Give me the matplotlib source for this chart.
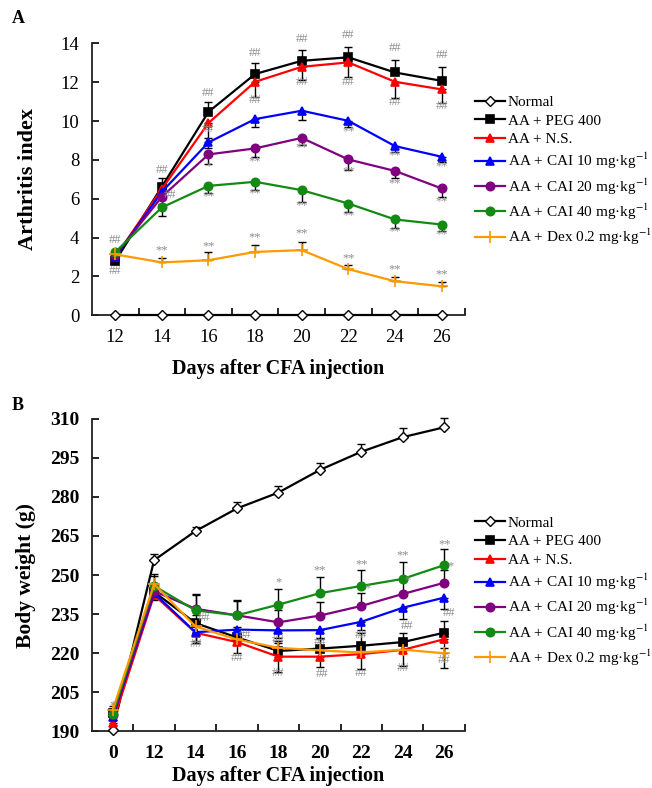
import numpy as np
import matplotlib
matplotlib.use("Agg")
import matplotlib.pyplot as plt

plt.rcParams['font.family'] = ['Liberation Serif', 'DejaVu Serif']
plt.rcParams['mathtext.fontset'] = 'stix'

# ====================== DATA ======================
groups = ['Normal', 'AA + PEG 400', 'AA + N.S.',
          'AA + CAI 10 mg·kg$^{-1}$', 'AA + CAI 20 mg·kg$^{-1}$',
          'AA + CAI 40 mg·kg$^{-1}$', 'AA + Dex 0.2 mg·kg$^{-1}$']
colors = ['black', 'black', '#ff0000', '#0000ff', '#800080', '#138a13', '#ff9900']
markers = ['D', 's', '^', '^', 'o', 'o', '+']

# panel A: arthritis index
days_a = ['12', '14', '16', '18', '20', '22', '24', '26']
ai_normal = [0, 0, 0, 0, 0, 0, 0, 0]
ai_peg = [2.78, 6.62, 10.47, 12.42, 13.10, 13.28, 12.50, 12.07]
ai_ns = [3.00, 6.50, 9.90, 12.02, 12.79, 13.02, 12.02, 11.63]
ai_cai10 = [3.00, 6.35, 8.90, 10.10, 10.53, 10.01, 8.71, 8.16]
ai_cai20 = [3.10, 6.10, 8.28, 8.59, 9.13, 8.02, 7.43, 6.53]
ai_cai40 = [3.25, 5.55, 6.66, 6.87, 6.44, 5.75, 4.93, 4.67]
ai_dex = [3.13, 2.72, 2.83, 3.26, 3.35, 2.37, 1.75, 1.49]

ai_normal_err = [0, 0, 0, 0, 0, 0, 0, 0]
ai_peg_err = [0.15, 0.42, 0.49, 0.55, 0.55, 0.55, 0.64, 0.72]
ai_ns_err = [0.15, 0.40, 0.80, 0.77, 0.70, 0.74, 0.86, 0.70]
ai_cai10_err = [0.15, 0.35, 0.30, 0.40, 0.50, 0.30, 0.30, 0.26]
ai_cai20_err = [0.15, 0.35, 0.47, 0.43, 0.37, 0.55, 0.39, 0.43]
ai_cai40_err = [0.15, 0.43, 0.39, 0.43, 0.60, 0.43, 0.46, 0.34]
ai_dex_err = [0.15, 0.25, 0.43, 0.34, 0.40, 0.21, 0.22, 0.23]

# significance marks (x index, y value, text)
ai_marks = [
    (0, 3.87, '##'), (0, 2.30, '##'), (1, 7.47, '##'), (1.18, 6.19, '##'),
    (2, 11.46, '##'), (2, 9.57, '##'), (3, 13.49, '##'), (3, 11.10, '##'),
    (4, 14.20, '##'), (4, 12.00, '##'), (5, 14.45, '##'), (5, 12.00, '##'),
    (6, 13.78, '##'), (6, 11.00, '##'), (7, 13.40, '##'), (7, 10.77, '##'),
    (5, 9.45, '**'), (6, 8.25, '**'), (7, 7.65, '**'),
    (2, 7.65, '*'), (3, 7.94, '**'), (4, 8.67, '**'), (5, 7.39, '**'),
    (6, 6.79, '**'), (7, 5.88, '**'),
    (2, 6.10, '**'), (3, 6.27, '**'), (4, 5.67, '**'), (5, 5.15, '**'),
    (6, 4.30, '**'), (7, 4.16, '**'),
    (1, 3.32, '**'), (2, 3.57, '**'), (3, 3.99, '**'), (4, 4.21, '**'),
    (5, 2.92, '**'), (6, 2.35, '**'), (7, 2.11, '**'),
]

# panel B: body weight
days_b = ['0', '12', '14', '16', '18', '20', '22', '24', '26']
bw_normal = [190.3, 255.7, 266.9, 275.6, 281.7, 290.4, 297.4, 303.0, 306.8]
bw_peg = [196.9, 243.5, 231.5, 226.0, 220.8, 221.7, 222.8, 224.2, 227.8]
bw_ns = [193.2, 242.3, 227.8, 224.2, 218.6, 218.6, 219.6, 221.2, 225.3]
bw_cai10 = [195.4, 243.0, 228.0, 229.0, 228.7, 228.8, 232.0, 237.4, 241.3]
bw_cai20 = [196.0, 243.8, 237.0, 234.5, 231.8, 234.4, 238.1, 242.7, 247.0]
bw_cai40 = [196.4, 245.8, 236.4, 234.5, 238.6, 243.0, 245.8, 248.5, 253.8]
bw_dex = [198.0, 246.5, 230.2, 225.2, 222.0, 221.0, 220.2, 221.3, 219.9]

bw_normal_err = [0.5, 2.5, 1.7, 2.4, 2.7, 2.6, 2.9, 3.4, 3.7]
bw_peg_err = [1.5, 3.0, 3.0, 4.0, 4.0, 3.6, 4.8, 3.5, 4.4]
bw_ns_err = [1.0, 2.0, 4.0, 4.2, 5.8, 3.9, 5.8, 6.1, 11.0]
bw_cai10_err = [1.0, 2.0, 3.5, 3.0, 3.0, 3.0, 3.0, 4.5, 4.2]
bw_cai20_err = [1.0, 3.0, 5.5, 5.6, 4.6, 5.3, 5.1, 5.0, 4.9]
bw_cai40_err = [1.0, 4.5, 6.2, 5.8, 6.1, 6.3, 6.1, 6.6, 6.1]
bw_dex_err = [1.5, 3.0, 2.0, 2.0, 2.0, 2.0, 2.0, 2.0, 2.0]

bw_marks = [
    (0, 199.7, '*'),
    (2.2, 233.5, '##'), (2, 223.6, '##'), (3.2, 227.1, '##'), (3, 217.9, '##'),
    (4, 224.9, '##'), (4, 212.3, '##'), (4, 247.0, '*'),
    (5, 224.3, '##'), (5.05, 211.8, '##'), (5, 251.9, '**'),
    (6, 227.1, '##'), (6, 212.3, '##'), (6, 254.2, '**'), (6.15, 244.8, '*'),
    (7.1, 230.4, '##'), (7, 214.4, '##'), (7, 257.4, '**'), (7.12, 247.8, '*'),
    (8.12, 235.4, '##'), (8, 217.2, '##'), (8, 261.9, '**'), (8.16, 253.4, '*'),
]

# error bar direction per group: +1 up, -1 down
ai_dirs = [1, 1, -1, -1, -1, -1, 1]
bw_dirs = [1, 1, -1, -1, 1, 1, 1]


def draw_panel(ax, labels, series, errs, dirs, marks, ylim, yticks, bold_ticks):
    x = np.arange(len(labels))
    for i, (vals, err) in enumerate(zip(series, errs)):
        err = np.asarray(err)
        zero = np.zeros_like(err)
        yerr = [zero, err] if dirs[i] > 0 else [err, zero]
        ax.errorbar(x, vals, yerr=yerr, fmt='none', ecolor='black',
                    elinewidth=1.0, capsize=3, capthick=1.0, zorder=2,
                    clip_on=False)
    for i, vals in enumerate(series):
        mfc = 'white' if i == 0 else colors[i]
        ms = 5 if markers[i] == 'D' else (9 if markers[i] == '+' else 6)
        ax.plot(x, vals, color=colors[i], lw=1.6, marker=markers[i], ms=ms,
                mfc=mfc, mec=colors[i], mew=1.0 if i == 0 else 1.2,
                label=groups[i], zorder=3 + i, clip_on=False)
    for xm, ym, txt in marks:
        ax.text(xm, ym, txt, color='#8c8c8c', fontsize=9,
                ha='center', va='center', zorder=20)

    ax.set_xlim(-0.5, len(labels) - 0.5)
    ax.set_ylim(*ylim)
    ax.set_xticks(x)
    ax.set_xticklabels(labels)
    ax.set_xticks(np.arange(0.5, len(labels), 1.0), minor=True)
    ax.tick_params(axis='x', which='major', length=0, pad=10)
    ax.tick_params(axis='x', which='minor', direction='in', length=5, width=1.2)
    ax.set_yticks(yticks)
    ax.tick_params(axis='y', direction='in', length=5, width=1.2, pad=9)
    weight = 'bold' if bold_ticks else 'normal'
    size = 14 if bold_ticks else 13.5
    for lab in ax.get_xticklabels() + ax.get_yticklabels():
        lab.set_fontweight(weight)
        lab.set_fontsize(size)
    for s in ['top', 'right']:
        ax.spines[s].set_visible(False)
    for s in ['left', 'bottom']:
        ax.spines[s].set_linewidth(1.3)
        ax.spines[s].set_color('#222222')


# ====================== FIGURE ======================
fig = plt.figure(figsize=(6.52, 7.88), dpi=100)
ax1 = fig.add_axes([0.141, 0.600, 0.572, 0.345])
ax2 = fig.add_axes([0.141, 0.0723, 0.572, 0.396])

draw_panel(ax1, days_a,
           [ai_normal, ai_peg, ai_ns, ai_cai10, ai_cai20, ai_cai40, ai_dex],
           [ai_normal_err, ai_peg_err, ai_ns_err, ai_cai10_err, ai_cai20_err,
            ai_cai40_err, ai_dex_err],
           ai_dirs, ai_marks, (0, 14), np.arange(0, 15, 2), False)
ax1.set_ylabel('Arthritis index', fontsize=16, fontweight='bold', labelpad=16)
ax1.set_xlabel('Days after CFA injection', fontsize=14.5, fontweight='bold',
               labelpad=9)

draw_panel(ax2, days_b,
           [bw_normal, bw_peg, bw_ns, bw_cai10, bw_cai20, bw_cai40, bw_dex],
           [bw_normal_err, bw_peg_err, bw_ns_err, bw_cai10_err, bw_cai20_err,
            bw_cai40_err, bw_dex_err],
           bw_dirs, bw_marks, (190, 310), np.arange(190, 311, 15), True)
ax2.set_ylabel('Body weight (g)', fontsize=15.5, fontweight='bold', labelpad=10)
ax2.set_xlabel('Days after CFA injection', fontsize=14.5, fontweight='bold',
               labelpad=3)

for ax, top in [(ax1, 0.879), (ax2, 0.345)]:
    ax.legend(loc='upper left', bbox_to_anchor=(0.728, top),
              bbox_transform=fig.transFigure, frameon=False, fontsize=11,
              handlelength=2.0, handletextpad=0.15, labelspacing=0.32,
              borderaxespad=0, borderpad=0)

fig.text(0.018, 0.977, 'A', fontsize=13, fontweight='bold', va='center')
fig.text(0.018, 0.485, 'B', fontsize=13, fontweight='bold', va='center')

fig.savefig('out.png', dpi=100, facecolor='white')
